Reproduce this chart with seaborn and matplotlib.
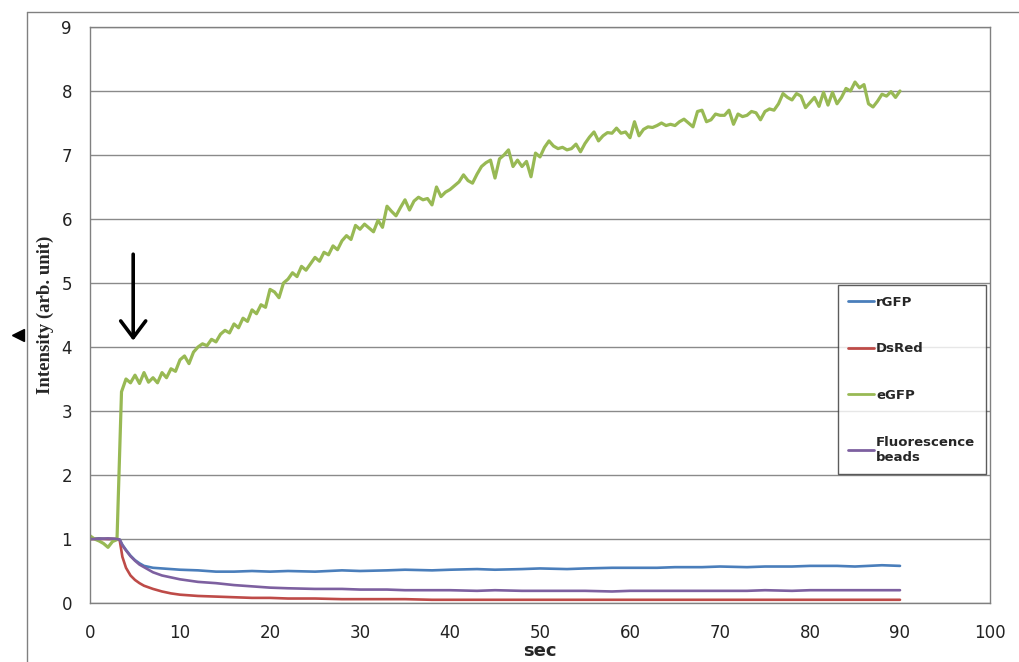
import numpy as np
import pandas as pd
import matplotlib
matplotlib.use("Agg")
import matplotlib.pyplot as plt
from matplotlib.lines import Line2D
import seaborn as sns

sns.set_theme(style="white")
plt.rcParams["font.family"] = ["DejaVu Sans"]

t_fast = np.arange(0, 90.01, 0.5)
egfp = [
    1.05, 1.00, 0.97, 0.93, 0.87, 0.96, 0.99, 3.30, 3.50, 3.44,
    3.56, 3.43, 3.60, 3.45, 3.52, 3.44, 3.60, 3.52, 3.66, 3.62,
    3.80, 3.86, 3.74, 3.92, 4.00, 4.05, 4.02, 4.12, 4.08, 4.20,
    4.26, 4.22, 4.36, 4.30, 4.45, 4.40, 4.58, 4.52, 4.66, 4.62,
    4.90, 4.86, 4.77, 5.00, 5.06, 5.16, 5.10, 5.26, 5.20, 5.30,
    5.40, 5.34, 5.48, 5.44, 5.58, 5.52, 5.66, 5.74, 5.68, 5.90,
    5.84, 5.92, 5.86, 5.80, 5.98, 5.87, 6.20, 6.12, 6.05, 6.18,
    6.30, 6.14, 6.28, 6.34, 6.30, 6.32, 6.22, 6.50, 6.35, 6.42,
    6.46, 6.52, 6.58, 6.69, 6.60, 6.56, 6.70, 6.82, 6.88, 6.92,
    6.64, 6.94, 7.00, 7.08, 6.82, 6.92, 6.82, 6.90, 6.66, 7.03,
    6.97, 7.12, 7.22, 7.14, 7.10, 7.12, 7.08, 7.10, 7.17, 7.05,
    7.18, 7.28, 7.36, 7.22, 7.30, 7.35, 7.34, 7.42, 7.34, 7.36,
    7.27, 7.52, 7.30, 7.40, 7.44, 7.43, 7.46, 7.50, 7.46, 7.48,
    7.46, 7.52, 7.56, 7.50, 7.44, 7.68, 7.70, 7.52, 7.55, 7.64,
    7.62, 7.62, 7.70, 7.48, 7.64, 7.60, 7.62, 7.68, 7.66, 7.55,
    7.68, 7.72, 7.70, 7.80, 7.96, 7.90, 7.86, 7.96, 7.92, 7.74,
    7.82, 7.90, 7.76, 7.98, 7.78, 7.98, 7.80, 7.90, 8.04, 8.00,
    8.14, 8.05, 8.10, 7.80, 7.75, 7.84, 7.95, 7.92, 7.99, 7.90,
    8.00,
]

# slower series on a coarser time grid
t_slow = [0, 1, 2, 3, 3.3, 3.6, 4, 4.5, 5, 5.5, 6, 7, 8, 9, 10, 12, 14, 16,
          18, 20, 22, 25, 28, 30, 33, 35, 38, 40, 43, 45, 48, 50, 53, 55, 58,
          60, 63, 65, 68, 70, 73, 75, 78, 80, 83, 85, 88, 90]
rgfp = [1.00, 1.01, 1.00, 1.00, 0.99, 0.91, 0.83, 0.74, 0.67, 0.62, 0.58,
        0.55, 0.54, 0.53, 0.52, 0.51, 0.49, 0.49, 0.50, 0.49, 0.50, 0.49,
        0.51, 0.50, 0.51, 0.52, 0.51, 0.52, 0.53, 0.52, 0.53, 0.54, 0.53,
        0.54, 0.55, 0.55, 0.55, 0.56, 0.56, 0.57, 0.56, 0.57, 0.57, 0.58,
        0.58, 0.57, 0.59, 0.58]
dsred = [1.00, 1.00, 1.00, 1.00, 0.98, 0.72, 0.55, 0.43, 0.36, 0.31, 0.27,
         0.22, 0.18, 0.15, 0.13, 0.11, 0.10, 0.09, 0.08, 0.08, 0.07, 0.07,
         0.06, 0.06, 0.06, 0.06, 0.05, 0.05, 0.05, 0.05, 0.05, 0.05, 0.05,
         0.05, 0.05, 0.05, 0.05, 0.05, 0.05, 0.05, 0.05, 0.05, 0.05, 0.05,
         0.05, 0.05, 0.05, 0.05]
beads = [1.00, 1.00, 1.01, 1.00, 0.99, 0.90, 0.82, 0.73, 0.66, 0.60, 0.56,
         0.48, 0.43, 0.40, 0.37, 0.33, 0.31, 0.28, 0.26, 0.24, 0.23, 0.22,
         0.22, 0.21, 0.21, 0.20, 0.20, 0.20, 0.19, 0.20, 0.19, 0.19, 0.19,
         0.19, 0.18, 0.19, 0.19, 0.19, 0.19, 0.19, 0.19, 0.20, 0.19, 0.20,
         0.20, 0.20, 0.20, 0.20]

series_names = ["rGFP", "DsRed", "eGFP", "Fluorescence\nbeads"]
colors = {"rGFP": "#4A7EBB", "DsRed": "#BE4B48", "eGFP": "#98B954",
          "Fluorescence\nbeads": "#7D60A0"}

df = pd.concat([
    pd.DataFrame({"sec": t_slow, "val": rgfp, "series": "rGFP"}),
    pd.DataFrame({"sec": t_slow, "val": dsred, "series": "DsRed"}),
    pd.DataFrame({"sec": t_fast, "val": egfp, "series": "eGFP"}),
    pd.DataFrame({"sec": t_slow, "val": beads, "series": "Fluorescence\nbeads"}),
], ignore_index=True)

fig = plt.figure(figsize=(10.2, 6.62), dpi=100)
ax = fig.add_axes([90 / 1020, 1 - 603 / 662, 900 / 1020, 576 / 662])

sns.lineplot(data=df, x="sec", y="val", hue="series", hue_order=series_names,
             palette=colors, errorbar=None, linewidth=1.9, ax=ax)
for ln in ax.lines:
    if ln.get_color() == colors["eGFP"]:
        ln.set_linewidth(2.3)

ax.set_xlim(0, 100)
ax.set_ylim(0, 9)
ax.set_xticks(range(0, 101, 10))
ax.set_yticks(range(0, 10))
ax.grid(axis="y", color="#8a8a8a", linewidth=1)
ax.set_axisbelow(True)
for s in ax.spines.values():
    s.set_color("#808080")
    s.set_linewidth(1)
ax.tick_params(axis="both", length=0, labelsize=12, colors="#222222")
ax.tick_params(axis="x", pad=15)
ax.tick_params(axis="y", pad=13)

ax.set_xlabel("sec", fontsize=13, fontweight="bold", labelpad=0)
ax.set_ylabel("Intensity (arb. unit)", fontsize=13.5, fontweight="bold",
              family="Liberation Serif", labelpad=5)

# arrow marking the addition point
ax.annotate("", xy=(4.8, 4.1), xytext=(4.8, 5.45),
            arrowprops=dict(arrowstyle="->,head_width=0.45,head_length=0.6",
                            lw=2.6, color="black", mutation_scale=20,
                            shrinkA=0, shrinkB=0))

leg = ax.legend(loc="upper left", bbox_to_anchor=(0.831, 0.552),
                borderaxespad=0, frameon=True, fancybox=False,
                fontsize=9.5, labelspacing=2.55, handlelength=1.9,
                handletextpad=0.2, borderpad=0.8)
leg.get_frame().set_edgecolor("#333333")
leg.get_frame().set_linewidth(1)
for txt in leg.get_texts():
    txt.set_fontweight("bold")
for h in leg.get_lines():
    h.set_linewidth(2)

# outer frame and stray marks from the original figure
fig.add_artist(Line2D([27 / 1020, 27 / 1020], [0, 1 - 12 / 662],
                      color="#808080", lw=1, transform=fig.transFigure))
fig.add_artist(Line2D([27 / 1020, 1], [1 - 12 / 662, 1 - 12 / 662],
                      color="#808080", lw=1, transform=fig.transFigure))
fig.add_artist(Line2D([18 / 1020], [1 - 335 / 662], marker="<", markersize=8,
                      color="black", transform=fig.transFigure))

fig.savefig("out.png", dpi=100)
